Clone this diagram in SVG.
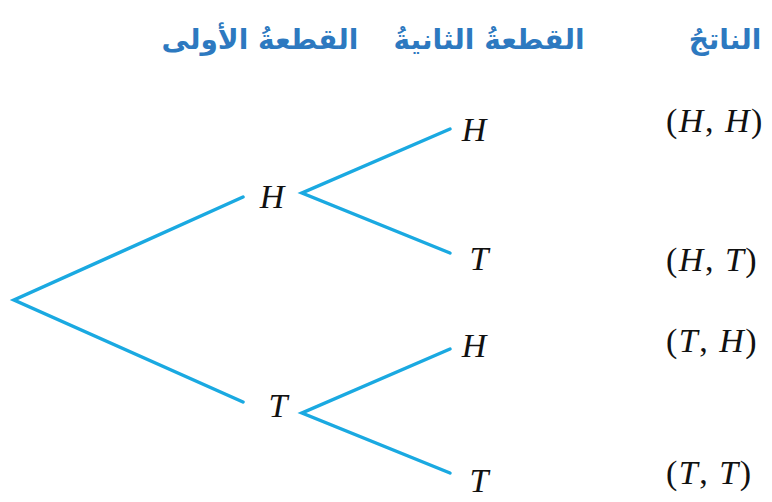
<svg xmlns="http://www.w3.org/2000/svg" width="772" height="502" viewBox="0 0 772 502">
<style>
.hd{font-family:"DejaVu Sans","Noto Sans",sans-serif;font-weight:bold;font-size:28px;fill:#2d79c0;text-anchor:middle}
.lb{font-family:"Liberation Serif",serif;font-style:italic;font-size:34px;fill:#111;text-anchor:middle}
.oc{font-family:"Liberation Serif",serif;font-size:34px;fill:#111;letter-spacing:1.5px}
.oc tspan{font-style:italic}
.br{stroke:#1aa9e1;stroke-width:3.5;fill:none;stroke-linecap:round;stroke-linejoin:miter}
</style>
<rect width="772" height="502" fill="#fff"/>
<g id="headers">
<text class="hd" x="260" y="49" direction="rtl">القطعةُ الأولى</text>
<text class="hd" x="489" y="49" direction="rtl">القطعةُ الثانيةُ</text>
<text class="hd" x="725" y="49" direction="rtl">الناتجُ</text>
</g>
<g id="connectors">
<polyline class="br" points="243,197 14,300 243,402"/>
<polyline class="br" points="450,129 302,193 450,253"/>
<polyline class="br" points="450,349 302,413 450,473"/>
</g>
<g id="n-H1"><text class="lb" x="272" y="208">H</text></g>
<g id="n-T1"><text class="lb" x="278" y="417">T</text></g>
<g id="n-HH"><text class="lb" x="474" y="141">H</text></g>
<g id="n-HT"><text class="lb" x="479" y="270">T</text></g>
<g id="n-TH"><text class="lb" x="474" y="357">H</text></g>
<g id="n-TT"><text class="lb" x="479" y="492">T</text></g>
<g id="o-HH"><text class="oc" x="666" y="132">(<tspan>H</tspan>, <tspan>H</tspan>)</text></g>
<g id="o-HT"><text class="oc" x="666" y="271">(<tspan>H</tspan>, <tspan>T</tspan>)</text></g>
<g id="o-TH"><text class="oc" x="666" y="352">(<tspan>T</tspan>, <tspan>H</tspan>)</text></g>
<g id="o-TT"><text class="oc" x="666" y="484">(<tspan>T</tspan>, <tspan>T</tspan>)</text></g>
</svg>
